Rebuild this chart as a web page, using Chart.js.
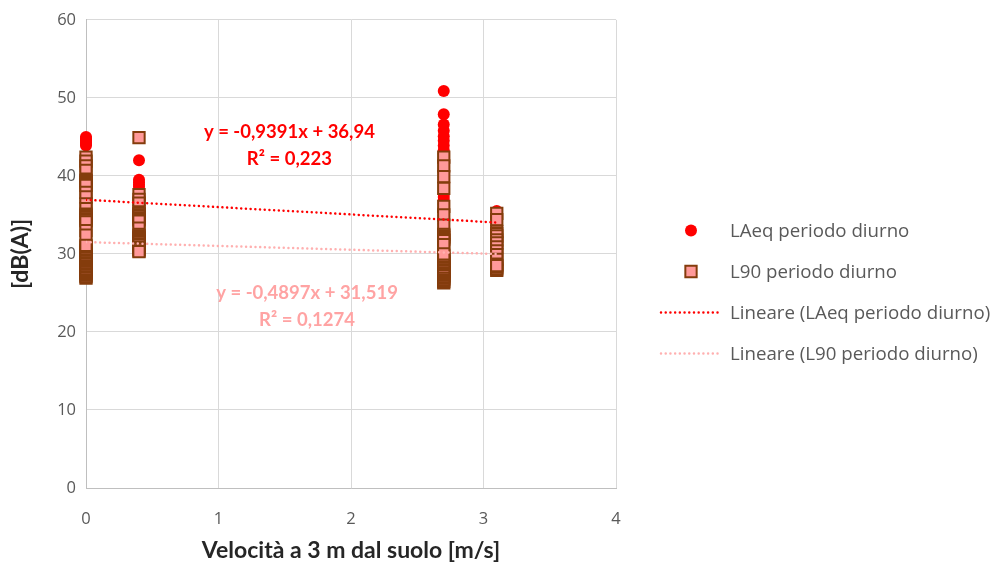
<!DOCTYPE html>
<html>
<head>
<meta charset="utf-8">
<script src="https://cdn.jsdelivr.net/npm/chart.js@4.4.1/dist/chart.umd.min.js"></script>
<style>
  html, body { margin: 0; padding: 0; background: #fff; }
  #wrap { width: 998px; height: 567px; }
</style>
</head>
<body>
<div id="wrap"><canvas id="chart" width="998" height="567"></canvas></div>
<script>
// wind speed classes (m/s) and the measured levels at each one
const speeds = [0, 0.4, 2.7, 3.1];

const laeqValues = [
  [45.0, 44.8, 44.7, 44.5, 44.3, 44.1, 43.9, 37.0, 35.0, 34.7, 34.3, 34.0, 33.6, 33.2, 30.3],
  [42.0, 39.5, 39.2, 38.9, 38.6, 38.2, 37.9, 37.5, 37.1, 36.8, 36.4],
  [50.9, 47.9, 46.6, 45.8, 45.1, 44.5, 43.9, 43.3, 42.8, 37.7, 37.3, 36.9, 36.4, 35.9, 35.4, 34.9, 34.4, 33.9],
  [35.5, 35.1, 34.7, 34.3, 33.9, 33.5, 33.2]
];

const l90Values = [
  [42.4, 41.9, 41.3, 40.7, 39.6, 39.4, 39.2, 39.0, 38.8, 37.9, 37.3, 36.4, 35.8, 35.1, 34.9, 34.7, 34.5, 34.3, 34.1, 33.0, 32.4,
   26.9, 27.1, 27.3, 27.5, 27.7, 27.9, 28.1, 28.3, 28.5, 28.7, 28.9, 29.1, 29.3, 29.5, 29.7, 29.9, 30.1, 30.3, 30.5, 30.7, 30.9, 31.1],
  [44.9, 37.6, 37.0, 36.5, 35.4, 35.2, 35.0, 34.8, 34.6, 34.4, 34.2, 33.3, 32.5, 32.3, 32.1, 31.9, 31.7, 31.5, 31.3, 31.1, 30.8, 30.6, 30.4, 30.3],
  [42.4, 41.3, 39.9, 38.4, 36.1, 35.0, 33.7, 32.5, 32.3, 32.1, 31.9, 31.7, 31.2,
   26.3, 26.5, 26.7, 26.9, 27.1, 27.3, 27.5, 27.7, 27.9, 28.1, 28.3, 28.6, 28.8, 29.0, 29.2, 29.4, 29.6, 29.8, 30.0],
  [35.2, 34.4, 32.9, 32.6, 32.3, 31.8, 31.4, 30.9, 30.4, 29.9, 29.3, 28.7, 27.9, 28.1, 28.3, 28.5]
];

// linear trend lines, ends at the first and last speed class
const trendX = [0, 3.1];
const laeqTrend = [36.94, 34.03];
const l90Trend = [31.52, 30.00];

const seriesNames = ['LAeq periodo diurno', 'L90 periodo diurno', 'Lineare (LAeq periodo diurno)', 'Lineare (L90 periodo diurno)'];
const equations = [
  ['y = -0,9391x + 36,94', 'R² = 0,223'],
  ['y = -0,4897x + 31,519', 'R² = 0,1274']
];

const RED = '#ff0000';
const PINK = '#ff9999';
const BROWN = '#843c0c';
const GREY_TXT = '#595959';
const TICK_FONT = { family: 'Open Sans', size: 16.5 };
const BOLD_FONT = '"Lato", sans-serif';

const toPoints = groups => groups.flatMap((vals, i) => vals.map(v => ({ x: speeds[i], y: v })));
const toLine = ys => ys.map((y, i) => ({ x: trendX[i], y }));

// equation labels placed in data units
const equationPos = [{ x: 1.535, y: 45.6, color: RED }, { x: 1.668, y: 24.95, color: '#ffa3a3' }];

const equationPlugin = {
  id: 'equations',
  afterDatasetsDraw(chart) {
    const { ctx, scales: { x, y } } = chart;
    ctx.save();
    ctx.font = 'bold 18.5px ' + BOLD_FONT;
    ctx.textAlign = 'center';
    ctx.textBaseline = 'middle';
    equations.forEach((lines, i) => {
      const p = equationPos[i];
      ctx.fillStyle = p.color;
      lines.forEach((t, j) => ctx.fillText(t, x.getPixelForValue(p.x), y.getPixelForValue(p.y) + j * 27));
    });
    ctx.restore();
  }
};

const legendPlugin = {
  id: 'sideLegend',
  afterDraw(chart) {
    const { ctx } = chart;
    const markX = 691, textX = 730, top = 230.5, step = 41;
    ctx.save();
    ctx.font = '18.7px "Open Sans"';
    ctx.textBaseline = 'middle';
    [0, 1, 2, 3].forEach(k => {
      const ds = chart.data.datasets.find(d => d.label === seriesNames[k]);
      const yy = top + k * step;
      if (ds.showLine) {
        ctx.strokeStyle = ds.borderColor;
        ctx.lineWidth = ds.borderWidth;
        ctx.lineCap = 'round';
        ctx.setLineDash(ds.borderDash);
        ctx.beginPath();
        ctx.moveTo(661, yy);
        ctx.lineTo(720, yy);
        ctx.stroke();
        ctx.setLineDash([]);
      } else {
        ctx.fillStyle = ds.backgroundColor;
        ctx.strokeStyle = ds.borderColor;
        ctx.lineWidth = ds.borderWidth;
        Chart.helpers.drawPoint(ctx, { pointStyle: ds.pointStyle, radius: ds.pointRadius, borderWidth: ds.borderWidth, rotation: 0 }, markX, yy);
      }
      ctx.fillStyle = GREY_TXT;
      ctx.fillText(seriesNames[k], textX, yy + 1);
    });
    ctx.restore();
  }
};

new Chart(document.getElementById('chart'), {
  type: 'scatter',
  data: {
    datasets: [
      { label: seriesNames[2], data: toLine(laeqTrend), showLine: true, pointRadius: 0, borderColor: RED, borderWidth: 2.5,
        borderDash: [0.01, 4.7], borderCapStyle: 'round', order: 0 },
      { label: seriesNames[3], data: toLine(l90Trend), showLine: true, pointRadius: 0, borderColor: '#ffb0b0', borderWidth: 2.5,
        borderDash: [0.01, 4.7], borderCapStyle: 'round', order: 1 },
      { label: seriesNames[1], data: toPoints(l90Values), pointStyle: 'rect', pointRadius: 8, pointHoverRadius: 8,
        backgroundColor: PINK, borderColor: BROWN, borderWidth: 2, clip: false, order: 2 },
      { label: seriesNames[0], data: toPoints(laeqValues), pointStyle: 'circle', pointRadius: 6, pointHoverRadius: 6,
        backgroundColor: RED, borderColor: RED, borderWidth: 0, clip: false, order: 3 }
    ]
  },
  options: {
    responsive: false,
    animation: false,
    devicePixelRatio: 1,
    layout: { padding: { top: 16, right: 382, bottom: 0, left: 0 } },
    plugins: { legend: { display: false }, tooltip: { enabled: false } },
    scales: {
      x: {
        type: 'linear', min: 0, max: 4,
        afterFit: s => { s.height = 79; },
        ticks: { stepSize: 1, color: GREY_TXT, font: TICK_FONT, padding: 21 },
        grid: { color: '#d9d9d9', drawTicks: false },
        border: { color: '#bfbfbf' },
        title: { display: true, text: 'Velocità a 3 m dal suolo [m/s]', color: '#262626',
          font: { family: 'Lato', size: 23, weight: 'bold' }, padding: { top: 4, bottom: 3 } }
      },
      y: {
        min: 0, max: 60,
        afterFit: s => { s.width = 86; },
        ticks: { stepSize: 10, color: GREY_TXT, font: TICK_FONT, padding: 10 },
        grid: { color: '#d9d9d9', drawTicks: false },
        border: { color: '#bfbfbf' },
        title: { display: true, text: '[dB(A)]', color: '#262626',
          font: { family: 'Lato', size: 23, weight: 'bold' }, padding: { top: 7, bottom: 0 } }
      }
    }
  },
  plugins: [equationPlugin, legendPlugin]
});
</script>
</body>
</html>
